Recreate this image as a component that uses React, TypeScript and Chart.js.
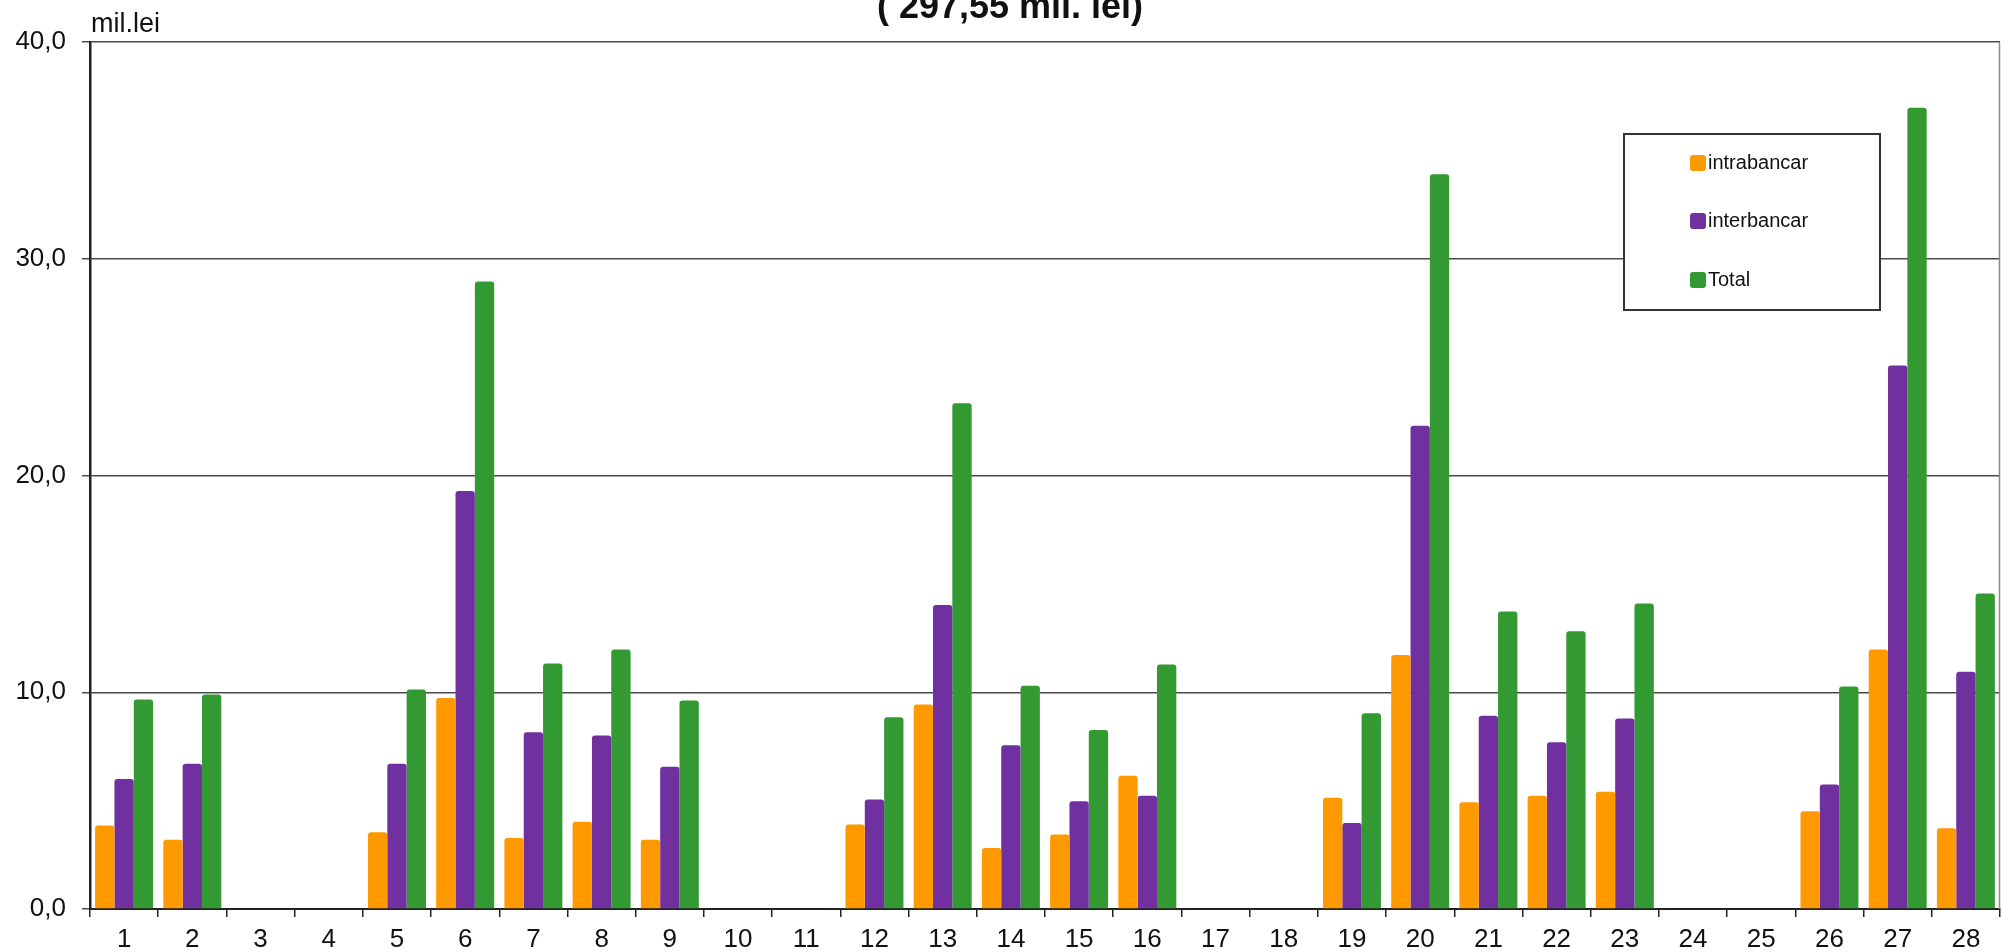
import React, { useEffect, useRef } from "react";
import { Chart, registerables } from "chart.js";

Chart.register(...registerables);

const days = [
  "1", "2", "3", "4", "5", "6", "7", "8", "9", "10", "11", "12", "13", "14",
  "15", "16", "17", "18", "19", "20", "21", "22", "23", "24", "25", "26", "27", "28",
];

const intrabancar = [
  3.85, 3.2, 0, 0, 3.54, 9.74, 3.28, 4.03, 3.2, 0, 0, 3.9, 9.44, 2.82,
  3.44, 6.15, 0, 0, 5.13, 11.72, 4.92, 5.23, 5.41, 0, 0, 4.51, 11.97, 3.72,
];

const interbancar = [
  6.0, 6.7, 0, 0, 6.7, 19.28, 8.15, 8.0, 6.56, 0, 0, 5.05, 14.03, 7.56,
  4.97, 5.23, 0, 0, 3.97, 22.3, 8.92, 7.69, 8.79, 0, 0, 5.74, 25.08, 10.95,
];

const total = [
  9.67, 9.9, 0, 0, 10.13, 28.95, 11.33, 11.97, 9.62, 0, 0, 8.85, 23.33, 10.3,
  8.26, 11.28, 0, 0, 9.03, 33.9, 13.72, 12.82, 14.1, 0, 0, 10.26, 36.97, 14.56,
];

const seriesNames = ["intrabancar", "interbancar", "Total"];
const seriesColors = ["#FF9900", "#7030A0", "#339933"];
const yTickLabels = ["0,0", "10,0", "20,0", "30,0", "40,0"];
const titleText = "( 297,55 mil. lei)";
const unitText = "mil.lei";

const FONT = "'Liberation Sans', Arial, Helvetica, sans-serif";

const decorPlugin = {
  id: "decor",
  afterDraw(chart: any) {
    const { ctx, chartArea } = chart;
    ctx.save();
    // right border of plot
    ctx.strokeStyle = "#8a8a8a";
    ctx.lineWidth = 1.5;
    ctx.beginPath();
    ctx.moveTo(chartArea.right - 0.5, chartArea.top);
    ctx.lineTo(chartArea.right - 0.5, chartArea.bottom);
    ctx.stroke();

    // title (partially cut at top)
    ctx.fillStyle = "#111";
    ctx.font = `bold 36px ${FONT}`;
    ctx.textAlign = "center";
    ctx.textBaseline = "alphabetic";
    ctx.fillText(titleText, 1010, 18);

    // unit label
    ctx.font = `27px ${FONT}`;
    ctx.textAlign = "left";
    ctx.fillText(unitText, chartArea.left + 1, 32);

    // legend box
    const bx = 1624, by = 134, bw = 256, bh = 176;
    ctx.fillStyle = "#ffffff";
    ctx.fillRect(bx, by, bw, bh);
    ctx.strokeStyle = "#333";
    ctx.lineWidth = 2;
    ctx.strokeRect(bx, by, bw, bh);
    const rows = [163, 221, 280];
    chart.data.datasets.forEach((ds: any, i: number) => {
      const cy = rows[i];
      ctx.fillStyle = ds.backgroundColor;
      ctx.beginPath();
      (ctx as any).roundRect(1690, cy - 8, 16, 16, 3);
      ctx.fill();
      ctx.fillStyle = "#111";
      ctx.font = `20px ${FONT}`;
      ctx.textAlign = "left";
      ctx.textBaseline = "middle";
      ctx.fillText(ds.label, 1708, cy);
    });
    ctx.restore();
  },
};

export default function App() {
  const canvasRef = useRef<HTMLCanvasElement | null>(null);

  useEffect(() => {
    document.body.style.margin = "0";
    const canvas = canvasRef.current;
    if (!canvas) return;
    const seriesData = [intrabancar, interbancar, total];
    const chart = new Chart(canvas, {
      type: "bar",
      data: {
        labels: days,
        datasets: seriesNames.map((name, i) => ({
          label: name,
          data: seriesData[i],
          backgroundColor: seriesColors[i],
          borderWidth: 0,
          borderRadius: { topLeft: 3, topRight: 3, bottomLeft: 0, bottomRight: 0 },
          borderSkipped: "start",
          categoryPercentage: 0.85,
          barPercentage: 1.0,
        })),
      },
      options: {
        responsive: false,
        animation: false,
        devicePixelRatio: 1,
        layout: { padding: { top: 42, right: 4, left: 0, bottom: 0 } },
        plugins: {
          legend: { display: false },
          tooltip: { enabled: false },
          title: { display: false },
        },
        scales: {
          x: {
            offset: true,
            grid: {
              offset: true,
              drawOnChartArea: false,
              drawTicks: true,
              tickLength: 8,
              color: "#222",
              lineWidth: 1.5,
            },
            border: { display: true, color: "#222", width: 2 },
            ticks: {
              color: "#111",
              font: { family: FONT, size: 26 },
              padding: 7,
              maxRotation: 0,
              autoSkip: false,
            },
            afterFit: (s: any) => {
              s.height = 43;
            },
          },
          y: {
            min: 0,
            max: 40,
            grid: {
              color: "#4a4a4a",
              lineWidth: 1.5,
              tickLength: 8,
            },
            border: { display: true, color: "#222", width: 2.5 },
            ticks: {
              stepSize: 10,
              color: "#111",
              font: { family: FONT, size: 26 },
              padding: 16,
              callback: (v: any) => yTickLabels[Math.round(Number(v) / 10)],
            },
            afterFit: (s: any) => {
              s.width = 90;
            },
          },
        },
      },
      plugins: [decorPlugin],
    });
    return () => chart.destroy();
  }, []);

  return (
    <div style={{ position: "absolute", left: 0, top: 0, width: 2004, height: 952, background: "#fff" }}>
      <canvas ref={canvasRef} width={2004} height={952} style={{ display: "block" }} />
    </div>
  );
}
